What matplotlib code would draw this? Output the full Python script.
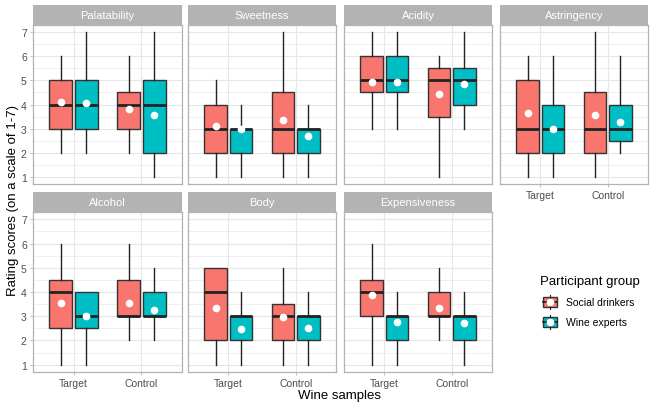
import numpy as np
import matplotlib
matplotlib.use("Agg")
import matplotlib.pyplot as plt
from matplotlib.patches import Rectangle

plt.rcParams["font.family"] = ["Liberation Sans", "DejaVu Sans"]

# one row per attribute, columns: Target/Social, Target/Experts, Control/Social, Control/Experts
attributes = ["Palatability", "Sweetness", "Acidity", "Astringency",
              "Alcohol", "Body", "Expensiveness"]
samples = ["Target", "Control"]
groups = ["Social drinkers", "Wine experts"]

whislo = [[2, 2, 2, 1], [1, 1, 1, 1], [3, 3, 1, 3], [1, 1, 1, 2],
          [1, 1, 2, 2], [1, 1, 1, 1], [1, 1, 2, 1]]
q1 = [[3, 3, 3, 2], [2, 2, 2, 2], [4.5, 4.5, 3.5, 4], [2, 2, 2, 2.5],
      [2.5, 2.5, 3, 3], [2, 2, 2, 2], [3, 2, 3, 2]]
med = [[4, 4, 4, 4], [3, 3, 3, 3], [5, 5, 5, 5], [3, 3, 3, 3],
       [4, 3, 3, 3], [4, 3, 3, 3], [4, 3, 3, 3]]
q3 = [[5, 5, 4.5, 5], [4, 3, 4.5, 3], [6, 6, 5.5, 5.5], [5, 4, 4.5, 4],
      [4.5, 4, 4.5, 4], [5, 3, 3.5, 3], [4.5, 3, 4, 3]]
whishi = [[6, 7, 6, 7], [5, 4, 7, 4], [7, 7, 6, 7], [6, 6, 7, 6],
          [6, 4, 6, 5], [5, 4, 5, 4], [6, 4, 5, 4]]
means = [[4.1, 4.05, 3.82, 3.57], [3.1, 2.97, 3.35, 2.7], [4.92, 4.92, 4.42, 4.86],
         [3.64, 3.0, 3.56, 3.26], [3.56, 3.0, 3.56, 3.26], [3.34, 2.48, 2.96, 2.52],
         [3.88, 2.78, 3.34, 2.74]]

colors = ["#F8766D", "#00BFC4"]
edge = "#333333"
grid = "#E6E6E6"
border = "#B3B3B3"

W, H = 655, 410
fig = plt.figure(figsize=(W / 100, H / 100), dpi=100)

col_x = [(33, 182), (188, 336), (344, 492), (500, 648)]
row_y = [(6, 26, 185), (193, 213, 373)]  # strip top, strip bottom/panel top, panel bottom


def fbox(x0, x1, y0, y1):
    return [x0 / W, 1 - y1 / H, (x1 - x0) / W, (y1 - y0) / H]


offsets = [-0.1875, 0.1875]
bw = 0.34

for k, name in enumerate(attributes):
    r, c = divmod(k, 4)
    x0, x1 = col_x[c]
    st, sb, pb = row_y[r]
    ax = fig.add_axes(fbox(x0, x1, sb, pb))
    sax = fig.add_axes(fbox(x0, x1, st, sb))
    sax.set_facecolor(border)
    sax.set_xticks([])
    sax.set_yticks([])
    for s in sax.spines.values():
        s.set_visible(False)
    sax.text(0.5, 0.5, name, color="white", fontsize=8, ha="center", va="center",
             transform=sax.transAxes)

    for j in range(4):
        gi = j % 2
        pos = 1 + j // 2 + offsets[gi]
        stats = [dict(whislo=whislo[k][j], q1=q1[k][j], med=med[k][j], q3=q3[k][j],
                      whishi=whishi[k][j], mean=means[k][j], fliers=[])]
        ax.bxp(stats, positions=[pos], widths=bw, patch_artist=True, showcaps=False,
               showmeans=True,
               boxprops=dict(facecolor=colors[gi], edgecolor=edge, linewidth=1.0),
               medianprops=dict(color="#222222", linewidth=2.0, solid_capstyle="butt"),
               whiskerprops=dict(color="#222222", linewidth=1.0),
               meanprops=dict(marker="o", markerfacecolor="white", markeredgecolor="white",
                              markersize=4.5), zorder=3)

    ax.set_xlim(0.4, 2.6)
    ax.set_ylim(0.7, 7.3)
    ax.set_xticks([1, 2])
    ax.set_yticks(range(1, 8))
    ax.set_yticks(np.arange(1.5, 7, 1), minor=True)
    ax.grid(True, which="major", color=grid, linewidth=0.8, zorder=0)
    ax.grid(True, which="minor", axis="y", color=grid, linewidth=0.45, zorder=0)
    ax.set_axisbelow(True)
    for s in ax.spines.values():
        s.set_color(border)
        s.set_linewidth(0.9)
    ax.tick_params(which="major", color=border, length=2.5, width=0.6,
                   labelsize=7.5, labelcolor="#4D4D4D", pad=2)
    ax.tick_params(which="minor", length=0)
    if c == 0:
        ax.set_yticklabels([str(v) for v in range(1, 8)])
    else:
        ax.tick_params(axis="y", length=0, labelleft=False)
    if r == 1 or k == 3:
        ax.set_xticklabels(samples)
    else:
        ax.tick_params(axis="x", length=0, labelbottom=False)

fig.text(13 / W, 1 - 200 / H, "Rating scores (on a scale of 1-7)", rotation=90,
         ha="center", va="center", fontsize=9.5)
fig.text(340 / W, 1 - 396 / H, "Wine samples", ha="center", va="center", fontsize=9.5)

# legend drawn in pixel coordinates
lax = fig.add_axes([0, 0, 1, 1], zorder=-1)
lax.set_xlim(0, W)
lax.set_ylim(H, 0)
lax.axis("off")
lax.text(540, 282, "Participant group", fontsize=9.5, ha="left", va="center")
for i, (col, lab) in enumerate(zip(colors, groups)):
    yc = 303 + 20 * i
    lax.plot([550, 550], [yc - 7, yc + 7], color="#222222", linewidth=0.8)
    lax.add_patch(Rectangle((543, yc - 5), 14, 10, facecolor=col, edgecolor=edge,
                            linewidth=1.0))
    lax.plot([543, 557], [yc, yc], color="#222222", linewidth=1.2)
    lax.plot([550], [yc], marker="o", markerfacecolor="white", markeredgecolor="white",
             markersize=4.5)
    lax.text(566, yc, lab, fontsize=7.5, ha="left", va="center")

fig.savefig("out.png", dpi=100)
